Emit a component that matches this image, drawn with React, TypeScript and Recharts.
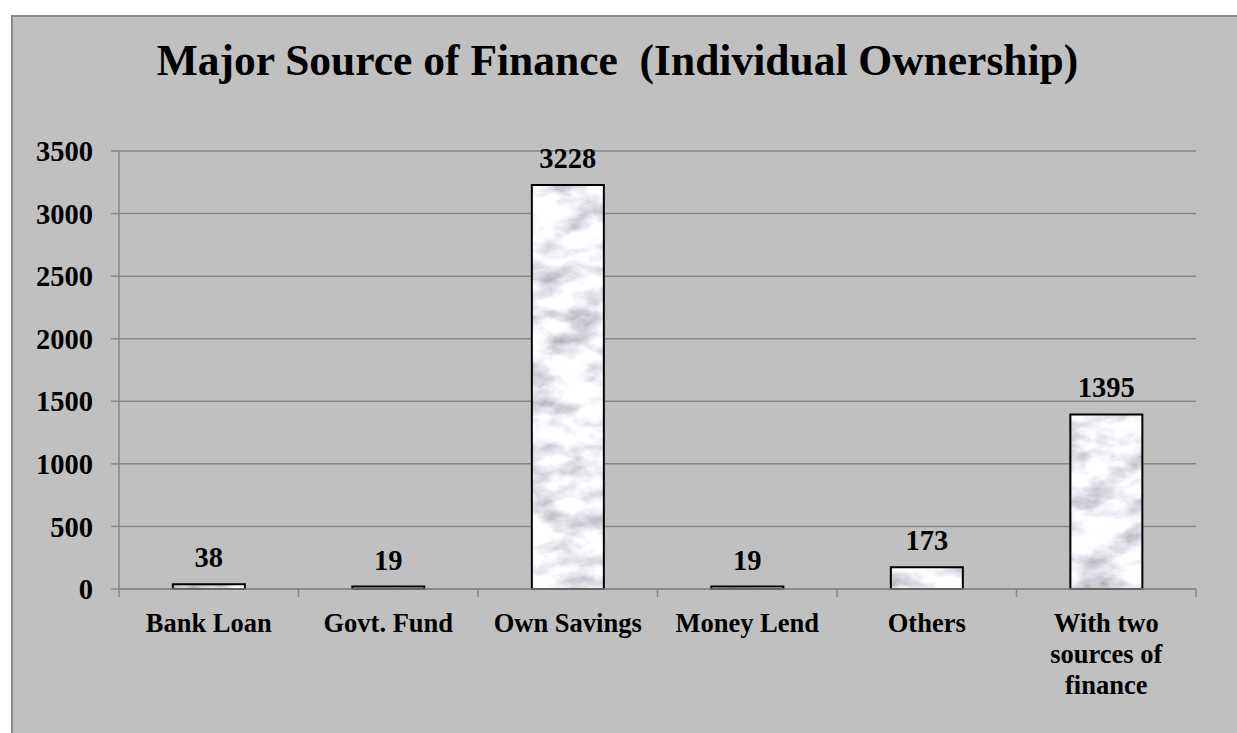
import React from 'react';
import { Bar, BarChart, CartesianGrid, LabelList, XAxis, YAxis } from 'recharts';

// values
const categories = ['Bank Loan', 'Govt. Fund', 'Own Savings', 'Money Lend', 'Others', 'With two sources of finance'];
const counts = [38, 19, 3228, 19, 173, 1395];
const tickLabelLines = [['Bank Loan'], ['Govt. Fund'], ['Own Savings'], ['Money Lend'], ['Others'], ['With two', 'sources of', 'finance']];
const yTicks = [0, 500, 1000, 1500, 2000, 2500, 3000, 3500];
const title = 'Major Source of Finance  (Individual Ownership)';

const data = categories.map((name, i) => ({ name, value: counts[i] }));

const W = 1237;
const H = 733;
const FONT = "'Liberation Serif', serif";
const GRID = '#878787';
const PLOT_LEFT = 119;
const PLOT_RIGHT = 1196;
const BAND = (PLOT_RIGHT - PLOT_LEFT) / categories.length;

function CategoryTick(props: any) {
  const { x, y, index } = props;
  const lines = tickLabelLines[index] || [String(props.payload?.value)];
  return (
    <g>
      <line x1={x - BAND / 2} x2={x - BAND / 2} y1={y} y2={y + 8} stroke={GRID} strokeWidth={1.5} />
      {index === categories.length - 1 && (
        <line x1={x + BAND / 2} x2={x + BAND / 2} y1={y} y2={y + 8} stroke={GRID} strokeWidth={1.5} />
      )}
      <text x={x} y={y + 43} textAnchor="middle" fontFamily={FONT} fontWeight="bold" fontSize={26.5} fill="#000">
        {lines.map((l: string, i: number) => (
          <tspan key={i} x={x} dy={i === 0 ? 0 : 31}>{l}</tspan>
        ))}
      </text>
    </g>
  );
}

export default function App() {
  return (
    <div style={{ position: 'fixed', left: 0, top: 0, width: W, height: H, background: '#fff', overflow: 'hidden' }}>
      <div
        style={{
          position: 'absolute', left: 11, top: 15, width: W, height: H,
          background: '#c0c0c0', borderLeft: '2px solid #8a8a8a', borderTop: '2px solid #8a8a8a',
        }}
      />
      <svg width={0} height={0} style={{ position: 'absolute' }}>
        <defs>
          <filter id="marbleFilter" x="0" y="0" width="1" height="1">
            <feTurbulence type="fractalNoise" baseFrequency="0.025 0.045" numOctaves={5} seed={11} result="n" />
            <feColorMatrix in="n" type="matrix" values="-1.3 0 0 0 1.53  -1.3 0 0 0 1.53  -1.25 0 0 0 1.55  0 0 0 0 1" />
          </filter>
          <pattern id="marble" patternUnits="userSpaceOnUse" width={W} height={H}>
            <rect width={W} height={H} fill="#fff" filter="url(#marbleFilter)" />
          </pattern>
        </defs>
      </svg>
      <svg width={W} height={130} style={{ position: 'absolute', left: 0, top: 0 }}>
        <text x={617.5} y={75} textAnchor="middle" fontFamily={FONT} fontWeight="bold" fontSize={43.5} fill="#000" xmlSpace="preserve">
          {title}
        </text>
      </svg>
      <div style={{ position: 'absolute', left: 0, top: 0 }}>
        <BarChart width={W} height={H} data={data} margin={{ top: 151, right: W - PLOT_RIGHT, left: 0, bottom: 0 }} barCategoryGap="30%">
          <CartesianGrid vertical={false} stroke={GRID} strokeWidth={1.5} />
          <XAxis
            dataKey="name"
            height={144}
            interval={0}
            tickLine={false}
            tickSize={0}
            tickMargin={0}
            axisLine={{ stroke: GRID, strokeWidth: 1.5 }}
            tick={<CategoryTick />}
          />
          <YAxis
            width={PLOT_LEFT}
            domain={[0, 3500]}
            ticks={yTicks}
            interval={0}
            tickSize={8}
            tickMargin={18}
            tickLine={{ stroke: GRID, strokeWidth: 1.5 }}
            axisLine={{ stroke: GRID, strokeWidth: 1.5 }}
            tick={{ fontFamily: FONT, fontWeight: 'bold', fontSize: 28.5, fill: '#000' }}
          />
          <Bar dataKey="value" fill="url(#marble)" stroke="#000" strokeWidth={2} isAnimationActive={false}>
            <LabelList dataKey="value" position="top" offset={17} style={{ fontFamily: FONT, fontWeight: 'bold', fontSize: 28.5, fill: '#000' }} />
          </Bar>
        </BarChart>
      </div>
    </div>
  );
}
